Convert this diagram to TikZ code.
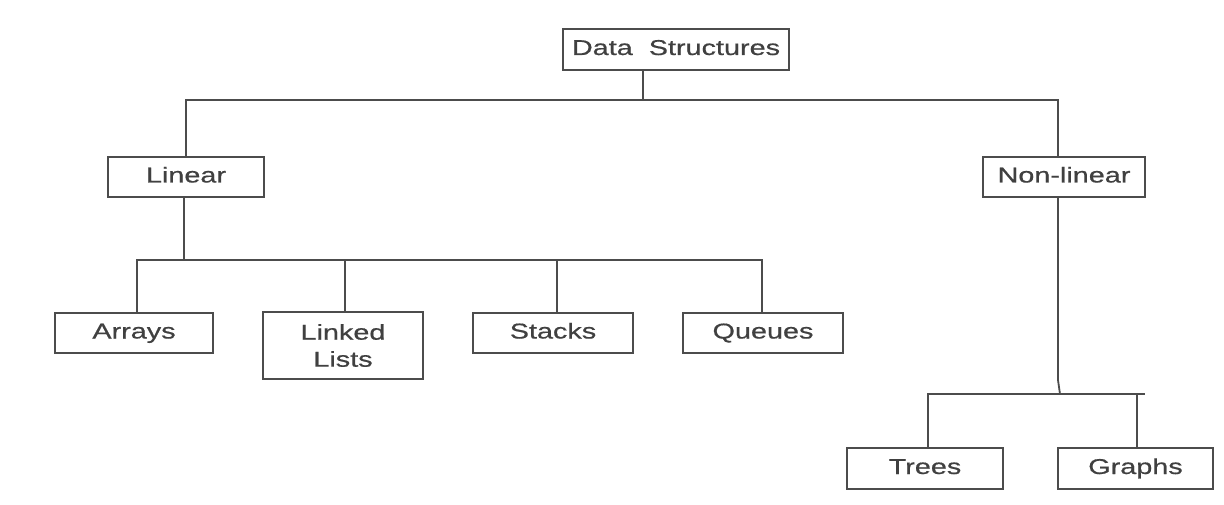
\documentclass[tikz,border=0pt]{standalone}
\usepackage{fontspec}
\setmainfont{Liberation Sans}[FakeStretch=1.34,FakeBold=0.6]
\begin{document}
\begin{tikzpicture}[x=1pt,y=-1pt,
  box/.style={draw=black!70,line width=1.6pt,fill=white,text=black!75,inner sep=0pt,
    font=\fontsize{21.5pt}{27pt}\selectfont,align=center,minimum height=40pt,
    text height=16pt,text depth=5pt},
  wire/.style={draw=black!70,line width=1.8pt}]
\useasboundingbox (0,0) rectangle (1224,505);
% nodes
\node[box,minimum width=226pt,minimum height=41pt] (ds) at (676,49.5) {Data\ \ Structures};
\node[box,minimum width=156pt] (lin) at (186,177) {Linear};
\node[box,minimum width=162pt] (nonlin) at (1064,177) {Non-linear};
\node[box,minimum width=158pt] (arr) at (134,333) {Arrays};
\node[box,minimum width=160pt,minimum height=67pt,text height={},text depth={}] (ll) at (343,345.5) {Linked\\Lists};
\node[box,minimum width=160pt] (st) at (553,333) {Stacks};
\node[box,minimum width=160pt] (qu) at (763,333) {Queues};
\node[box,minimum width=156pt,minimum height=41pt] (tr) at (925,468.5) {Trees};
\node[box,minimum width=155pt,minimum height=41pt] (gr) at (1135.5,468.5) {Graphs};
% junctions
\coordinate (j0) at (643,100);
\coordinate (jl) at (186,100);
\coordinate (jr) at (1058,100);
\coordinate (k0) at (184,260);
\coordinate (k1) at (137,260);
\coordinate (k2) at (345,260);
\coordinate (k3) at (557,260);
\coordinate (k4) at (762,260);
\coordinate (m0) at (1060,394);
\coordinate (m1) at (928,394);
\coordinate (m2) at (1137,394);
\coordinate (m3) at (1145,394);
% connectors
\draw[wire] (ds.south -| j0) -- (j0);
\draw[wire] (lin.north -| jl) -- (jl) -- (jr) -- (nonlin.north -| jr);
\draw[wire] (lin.south -| k0) -- (k0);
\draw[wire] (arr.north -| k1) -- (k1) -- (k4) -- (qu.north -| k4);
\draw[wire] (k2) -- (ll.north -| k2);
\draw[wire] (k3) -- (st.north -| k3);
\draw[wire] (nonlin.south -| jr) -- (1058,380) -- (m0);
\draw[wire] (tr.north -| m1) -- (m1) -- (m3);
\draw[wire] (m2) -- (gr.north -| m2);
\end{tikzpicture}
\end{document}
